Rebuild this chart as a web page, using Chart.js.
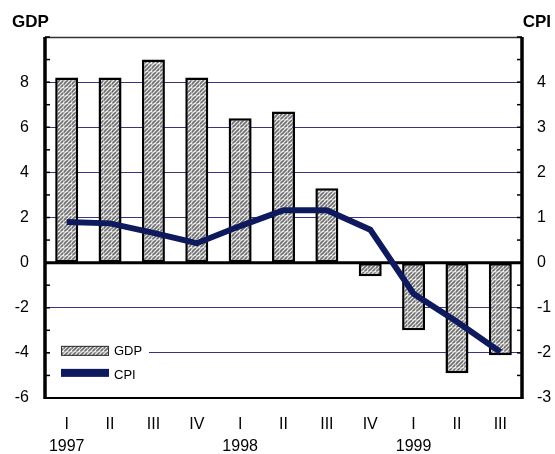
<!DOCTYPE html>
<html>
<head>
<meta charset="utf-8">
<style>
  html, body { margin: 0; padding: 0; background: #ffffff; }
  #wrap { width: 555px; height: 454px; }
</style>
<script src="https://cdn.jsdelivr.net/npm/chart.js@4/dist/chart.umd.min.js"></script>
</head>
<body>
<div id="wrap"><canvas id="c" width="555" height="454"></canvas></div>
<script>
// Quarterly labels (quarter numeral, year under the first quarter)
const quarters = ['I', 'II', 'III', 'IV', 'I', 'II', 'III', 'IV', 'I', 'II', 'III'];
const years = ['1997', '', '', '', '1998', '', '', '', '1999', '', ''];

// GDP growth, % (left axis)
const gdpValues = [8.2, 8.2, 9.0, 8.2, 6.4, 6.7, 3.3, -0.6, -3.0, -4.9, -4.1];
// CPI, % (right axis)
const cpiValues = [0.9, 0.87, 0.66, 0.43, 0.81, 1.16, 1.16, 0.73, -0.69, -1.31, -1.98];

const gdpTicks = [-6, -4, -2, 0, 2, 4, 6, 8];
const cpiTicks = [-3, -2, -1, 0, 1, 2, 3, 4];

const FONT = '"Liberation Sans", Arial, sans-serif';
const NAVY = '#0f1a5e';
const GRID = '#3b3380';

// hatched fill for the GDP bars
function makeHatch() {
  const s = 8;
  const p = document.createElement('canvas');
  p.width = s; p.height = s;
  const g = p.getContext('2d');
  g.fillStyle = '#ececec';
  g.fillRect(0, 0, s, s);
  g.strokeStyle = '#6e6e6e';
  g.lineWidth = 1.6;
  for (let k = -s; k <= 2 * s; k += 4) {
    g.beginPath();
    g.moveTo(k, s);
    g.lineTo(k + s, 0);
    g.stroke();
  }
  g.fillStyle = 'rgba(255,255,255,0.35)';
  g.fillRect(0, s - 1, s, 1);
  g.fillRect(s - 1, 0, 1, s);
  return g.createPattern(p, 'repeat');
}

const ctx = document.getElementById('c').getContext('2d');
const hatch = makeHatch();

const labels = quarters.map((q, i) => years[i] ? [q, years[i]] : [q]);

// axis titles, inner tick marks, frame and an in-plot legend
const decor = {
  id: 'decor',
  beforeDatasetsDraw(chart) {
    const { ctx, chartArea: a, scales } = chart;
    ctx.save();
    // zero line
    const y0 = scales.y.getPixelForValue(0);
    ctx.strokeStyle = '#000';
    ctx.lineWidth = 3;
    ctx.beginPath();
    ctx.moveTo(a.left, y0);
    ctx.lineTo(a.right, y0);
    ctx.stroke();
    ctx.restore();
  },
  afterDraw(chart) {
    const { ctx, chartArea: a, scales } = chart;
    ctx.save();
    // frame
    ctx.strokeStyle = '#333';
    ctx.lineWidth = 1.5;
    ctx.beginPath();
    ctx.moveTo(a.left, a.top + 0.5);
    ctx.lineTo(a.right, a.top + 0.5);
    ctx.stroke();
    ctx.strokeStyle = '#000';
    ctx.lineWidth = 2;
    ctx.beginPath();
    ctx.moveTo(a.left, a.bottom);
    ctx.lineTo(a.right, a.bottom);
    ctx.stroke();
    ctx.lineWidth = 3.5;
    ctx.beginPath();
    ctx.moveTo(a.left, a.top);
    ctx.lineTo(a.left, a.bottom + 1);
    ctx.moveTo(a.right, a.top);
    ctx.lineTo(a.right, a.bottom + 1);
    ctx.stroke();
    // inward tick marks at every unit
    ctx.lineWidth = 1.5;
    for (let v = -6; v <= 10; v++) {
      const y = scales.y.getPixelForValue(v);
      ctx.beginPath();
      ctx.moveTo(a.left, y);
      ctx.lineTo(a.left + 5, y);
      ctx.stroke();
    }
    for (let v = -3; v <= 5; v += 0.5) {
      const y = scales.y1.getPixelForValue(v);
      ctx.beginPath();
      ctx.moveTo(a.right, y);
      ctx.lineTo(a.right - 5, y);
      ctx.stroke();
    }
    // axis titles
    ctx.fillStyle = '#000';
    ctx.font = 'bold 17px ' + FONT;
    ctx.textBaseline = 'middle';
    ctx.textAlign = 'left';
    ctx.fillText(chart.data.datasets[1].label, 12, 22);
    ctx.textAlign = 'right';
    ctx.fillText(chart.data.datasets[0].label, 551, 22);

    // legend
    const lx = a.left + 16;
    const ly = scales.y.getPixelForValue(-4) - 2;
    ctx.fillStyle = '#fff';
    ctx.fillRect(a.left + 5, ly - 8, 99, 46);
    const bar = chart.data.datasets[1];
    ctx.fillStyle = bar.backgroundColor;
    ctx.fillRect(lx, ly - 5, 48, 10);
    ctx.strokeStyle = '#333';
    ctx.lineWidth = 1;
    ctx.strokeRect(lx + 0.5, ly - 4.5, 47, 9);
    const line = chart.data.datasets[0];
    ctx.fillStyle = line.borderColor;
    ctx.fillRect(lx, ly + 18, 48, 8);
    ctx.fillStyle = '#000';
    ctx.font = '13px ' + FONT;
    ctx.textAlign = 'left';
    ctx.fillText(bar.label, lx + 53, ly + 1);
    ctx.fillText(line.label, lx + 53, ly + 25);
    ctx.restore();
  }
};

new Chart(ctx, {
  data: {
    labels: labels,
    datasets: [
      {
        type: 'line',
        label: 'CPI',
        data: cpiValues,
        yAxisID: 'y1',
        borderColor: NAVY,
        borderWidth: 6,
        pointRadius: 0,
        tension: 0,
        fill: false,
        order: 1
      },
      {
        type: 'bar',
        label: 'GDP',
        data: gdpValues,
        yAxisID: 'y',
        backgroundColor: hatch,
        borderColor: '#000',
        borderWidth: 2.5,
        borderSkipped: false,
        categoryPercentage: 1,
        barPercentage: 0.53,
        order: 2
      }
    ]
  },
  options: {
    responsive: false,
    animation: false,
    layout: { padding: { top: 37, left: 0, right: 0, bottom: 0 } },
    plugins: { legend: { display: false }, tooltip: { enabled: false } },
    scales: {
      x: {
        grid: { display: false, drawTicks: false },
        border: { display: false },
        ticks: {
          padding: 15,
          color: '#000',
          maxRotation: 0,
          autoSkip: false,
          font: { family: FONT, size: 16, lineHeight: 1.4 }
        },
        afterFit(s) { s.height = 56; }
      },
      y: {
        position: 'left',
        min: -6,
        max: 10,
        afterBuildTicks(s) { s.ticks = gdpTicks.map(v => ({ value: v })); },
        grid: {
          drawTicks: false,
          color: c => (c.tick && c.tick.value !== 0) ? GRID : 'rgba(0,0,0,0)',
          lineWidth: 1
        },
        border: { display: false },
        ticks: { padding: 16, color: '#000', font: { family: FONT, size: 16 } },
        afterFit(s) { s.width = 45; }
      },
      y1: {
        position: 'right',
        min: -3,
        max: 5,
        afterBuildTicks(s) { s.ticks = cpiTicks.map(v => ({ value: v })); },
        grid: { display: false, drawTicks: false },
        border: { display: false },
        ticks: { padding: 15, color: '#000', font: { family: FONT, size: 16 } },
        afterFit(s) { s.width = 33; }
      }
    }
  },
  plugins: [decor]
});
</script>
</body>
</html>
